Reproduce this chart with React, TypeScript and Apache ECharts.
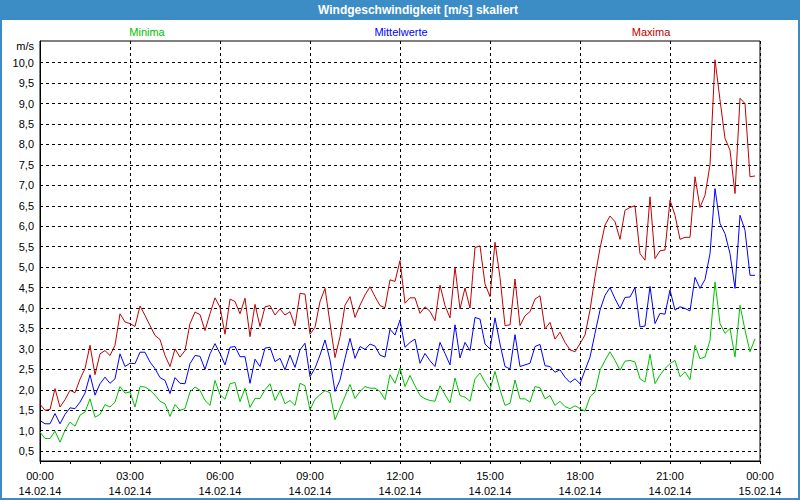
import React, { useEffect, useRef } from "react";
import * as echarts from "echarts";

const TITLE = "Windgeschwindigkeit [m/s] skaliert";
const SERIES_NAMES = ["Minima", "Mittelwerte", "Maxima"];
const SERIES_COLORS = ["#00C000", "#0000FF", "#C00000"];

// 10-minute steps, 00:00 .. 23:50 (hours = index / 6)
const maxima = [
  1.65, 1.5, 1.52, 2.03, 1.58, 1.76, 1.99, 1.93, 2.26, 2.52, 3.09, 2.37, 2.88, 2.96, 2.84, 3.09, 3.86, 3.66, 3.62, 3.55, 4.05, 3.82, 3.57, 3.33, 3.23, 2.84, 2.57, 3.0, 2.8, 2.96, 3.62, 3.9, 3.84, 3.45, 3.86, 4.25, 4.02,
  3.36, 4.22, 4.16, 3.86, 4.24, 3.3, 4.09, 3.55, 4.03, 4.06, 3.83, 3.98, 3.83, 3.91, 3.56, 4.36, 4.34, 3.36, 3.53, 4.16, 4.48, 3.63, 2.79, 3.3, 4.07, 4.28, 3.77, 4.07, 4.32, 4.52, 4.28, 4.06, 4.01, 4.69, 4.65, 5.16,
  4.12, 4.25, 4.25, 3.87, 4.03, 3.92, 3.69, 4.56, 4.06, 3.76, 5.0, 3.98, 4.49, 4.0, 5.48, 5.52, 4.59, 4.28, 5.61, 4.75, 3.57, 3.59, 4.71, 3.57, 3.81, 3.91, 4.22, 4.3, 3.49, 3.65, 3.24, 3.41, 3.16,
  2.98, 2.93, 3.13, 3.34, 3.95, 4.76, 5.46, 6.03, 6.25, 6.11, 5.68, 6.39, 6.46, 6.5, 5.33, 5.17, 6.72, 5.21, 5.4, 5.42, 6.64, 6.27, 5.68, 5.73, 5.73, 7.21, 6.46, 6.76, 7.5, 10.07, 9.09, 8.15, 7.86, 6.8, 9.13, 9.0, 7.21, 7.23,
];
const mittelwerte = [
  1.25, 1.17, 1.17, 1.42, 1.17, 1.4, 1.56, 1.54, 1.7, 1.92, 2.37, 1.87, 2.15, 2.31, 2.16, 2.27, 2.88, 2.57, 2.65, 2.64, 2.92, 2.92, 2.68, 2.52, 2.3, 2.23, 1.91, 2.3, 2.16, 2.15, 2.64, 2.84, 2.82, 2.5, 2.88, 3.13, 2.89,
  2.61, 3.04, 3.06, 2.81, 2.81, 2.16, 2.75, 2.57, 3.02, 3.04, 2.69, 2.77, 2.49, 2.85, 2.55, 2.98, 3.14, 2.32, 2.53, 2.85, 3.22, 2.73, 1.96, 2.24, 2.77, 3.26, 2.77, 3.06, 2.99, 3.12, 3.07, 2.85, 2.8, 3.48, 3.34, 3.71,
  3.04, 3.16, 3.24, 2.65, 2.89, 2.71, 2.57, 3.16, 2.89, 2.61, 3.59, 2.78, 3.16, 2.96, 3.77, 3.73, 3.12, 3.0, 3.76, 3.12, 2.57, 2.51, 3.35, 2.57, 2.61, 2.65, 3.06, 3.11, 2.59, 2.57, 2.43, 2.49, 2.31,
  2.18, 2.27, 2.15, 2.48, 2.8, 3.38, 3.95, 4.31, 4.5, 4.23, 3.99, 4.26, 4.27, 4.5, 3.54, 3.56, 4.53, 3.62, 3.87, 3.85, 4.44, 3.95, 4.03, 3.99, 3.93, 4.75, 4.48, 4.7, 5.33, 6.92, 6.07, 5.82, 5.33, 4.48, 6.27, 5.9, 4.8, 4.8,
];
const minima = [
  0.97, 0.81, 0.81, 0.99, 0.72, 1.01, 1.21, 1.11, 1.38, 1.46, 1.78, 1.33, 1.4, 1.64, 1.58, 1.7, 2.08, 1.92, 1.95, 1.58, 2.08, 2.07, 1.99, 1.87, 1.72, 1.66, 1.35, 1.64, 1.5, 1.54, 1.95, 2.07, 1.99, 1.74, 1.62, 2.23, 1.88,
  1.77, 2.15, 2.18, 1.71, 2.04, 1.57, 1.79, 1.79, 2.0, 2.15, 1.74, 1.98, 1.66, 1.74, 1.62, 2.16, 2.1, 1.51, 1.77, 1.88, 1.98, 1.93, 1.27, 1.55, 1.84, 2.13, 1.79, 1.96, 2.08, 2.04, 2.04, 1.96, 1.76, 2.37, 2.16, 2.53,
  2.08, 2.35, 2.1, 1.86, 1.78, 1.74, 1.72, 2.1, 1.88, 1.68, 2.29, 1.86, 1.82, 1.72, 2.27, 2.41, 2.19, 2.0, 2.45, 2.0, 1.62, 1.67, 2.24, 1.78, 1.78, 1.7, 2.08, 2.05, 1.78, 1.86, 1.62, 1.72, 1.59,
  1.54, 1.61, 1.54, 1.48, 1.83, 1.95, 2.48, 2.72, 2.93, 2.72, 2.48, 2.7, 2.72, 2.68, 2.27, 2.19, 2.87, 2.15, 2.36, 2.52, 2.64, 2.72, 2.32, 2.44, 2.25, 3.09, 2.76, 2.8, 3.21, 4.64, 3.62, 3.38, 3.5, 2.8, 4.07, 3.46, 2.93, 3.25,
];

const yTickValues = [0.5, 1.0, 1.5, 2.0, 2.5, 3.0, 3.5, 4.0, 4.5, 5.0, 5.5, 6.0, 6.5, 7.0, 7.5, 8.0, 8.5, 9.0, 9.5, 10.0];
const xTickHours = [0, 3, 6, 9, 12, 15, 18, 21, 24];
const xTickTimes = ["00:00", "03:00", "06:00", "09:00", "12:00", "15:00", "18:00", "21:00", "00:00"];
const xTickDates = ["14.02.14", "14.02.14", "14.02.14", "14.02.14", "14.02.14", "14.02.14", "14.02.14", "14.02.14", "15.02.14"];

const FONT = "'Liberation Sans', Arial, sans-serif";

export default function App() {
  const ref = useRef<HTMLDivElement>(null);
  useEffect(() => {
    if (!ref.current) return;
    const chart = echarts.init(ref.current, undefined, { renderer: "svg" });
    const toPairs = (arr: number[]) => arr.map((v, i) => [i / 6, v]);
    const seriesData = [minima, mittelwerte, maxima];
    chart.setOption({
      animation: false,
      backgroundColor: "#FFFFFF",
      textStyle: { fontFamily: FONT },
      grid: {
        left: 40,
        top: 41,
        width: 720,
        height: 420,
        show: true,
        borderColor: "#000",
        borderWidth: 1,
        backgroundColor: "transparent",
      },
      xAxis: {
        type: "value",
        min: 0,
        max: 24,
        interval: 3,
        axisLine: { show: true, lineStyle: { color: "#000", width: 1 } },
        axisTick: { show: true, length: 3, lineStyle: { color: "#000" } },
        minorTick: { show: true, splitNumber: 3, length: 3, lineStyle: { color: "#000" } },
        splitLine: { show: true, lineStyle: { color: "#000", type: [3, 3], width: 1 } },
        axisLabel: {
          margin: 7,
          fontSize: 11,
          lineHeight: 15,
          color: "#000",
          fontFamily: FONT,
          formatter: (v: number) => {
            const k = xTickHours.indexOf(Math.round(v));
            return k >= 0 ? xTickTimes[k] + "\n" + xTickDates[k] : "";
          },
        },
      },
      yAxis: {
        type: "value",
        min: 0.26,
        max: 10.53,
        axisLine: { show: true, lineStyle: { color: "#000", width: 1 } },
        axisTick: { show: false, customValues: yTickValues },
        splitLine: { show: true, lineStyle: { color: "#000", type: [3, 3], width: 1 } },
        axisLabel: {
          customValues: yTickValues,
          margin: 6,
          fontSize: 11,
          color: "#000",
          fontFamily: FONT,
          formatter: (v: number) => v.toFixed(1).replace(".", ","),
        },
      },
      series: seriesData.map((d, k) => ({
        name: SERIES_NAMES[k],
        type: "line",
        data: toPairs(d),
        showSymbol: false,
        symbol: "none",
        lineStyle: { color: SERIES_COLORS[k], width: 1 },
        itemStyle: { color: SERIES_COLORS[k] },
      })),
      graphic: [
        { type: "rect", shape: { x: 0, y: 0, width: 800, height: 20 }, style: { fill: "#3C8DC5" }, silent: true },
        {
          type: "text",
          x: 418,
          y: 10,
          style: { text: TITLE, fill: "#FFFFFF", font: `bold 12px ${FONT}`, textAlign: "center", textVerticalAlign: "middle" },
        },
        { type: "rect", shape: { x: 1, y: 1, width: 798, height: 498 }, style: { fill: "none", stroke: "#3C8DC5", lineWidth: 2 }, silent: true },
        {
          type: "text",
          x: 147,
          y: 32,
          style: { text: SERIES_NAMES[0], fill: SERIES_COLORS[0], font: `11px ${FONT}`, textAlign: "center", textVerticalAlign: "middle" },
        },
        {
          type: "text",
          x: 401,
          y: 32,
          style: { text: SERIES_NAMES[1], fill: SERIES_COLORS[1], font: `11px ${FONT}`, textAlign: "center", textVerticalAlign: "middle" },
        },
        {
          type: "text",
          x: 651,
          y: 32,
          style: { text: SERIES_NAMES[2], fill: SERIES_COLORS[2], font: `11px ${FONT}`, textAlign: "center", textVerticalAlign: "middle" },
        },
        {
          type: "text",
          x: 34,
          y: 46,
          style: { text: "m/s", fill: "#000", font: `11px ${FONT}`, textAlign: "right", textVerticalAlign: "middle" },
        },
      ],
    });
    return () => chart.dispose();
  }, []);
  return <div ref={ref} style={{ position: "fixed", left: 0, top: 0, width: 800, height: 500 }} />;
}
